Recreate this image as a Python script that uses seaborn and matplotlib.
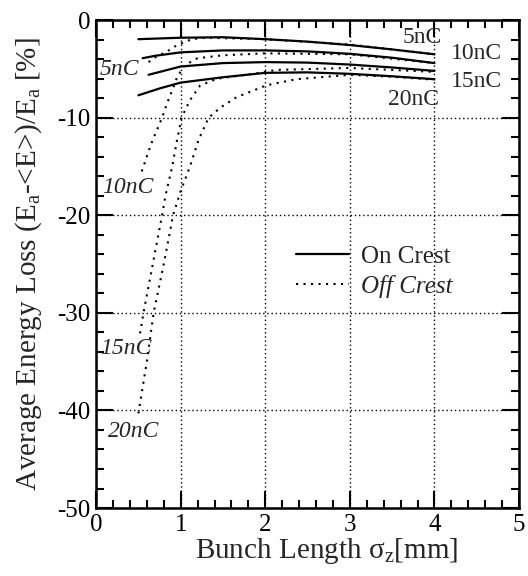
import matplotlib
matplotlib.use("Agg")
import matplotlib.pyplot as plt
from matplotlib.ticker import MultipleLocator
from matplotlib.lines import Line2D
import seaborn as sns
import pandas as pd

# ── data ────────────────────────────────────────────────────────────────────
charges = ["5nC", "10nC", "15nC", "20nC"]

on_5_x  = [0.5, 1.0, 1.5, 2.0, 2.5, 3.0, 3.5, 4.0]
on_5_y  = [-1.95, -1.8, -1.75, -1.95, -2.2, -2.55, -3.0, -3.5]
on_10_x = [0.55, 0.7, 1.0, 1.5, 2.0, 2.5, 3.0, 3.5, 4.0]
on_10_y = [-3.9, -3.65, -3.3, -3.1, -3.1, -3.2, -3.45, -3.85, -4.4]
on_15_x = [0.62, 1.0, 1.5, 2.0, 2.5, 3.0, 3.5, 4.0]
on_15_y = [-5.6, -4.75, -4.4, -4.3, -4.35, -4.55, -4.85, -5.2]
on_20_x = [0.5, 0.75, 1.0, 1.5, 2.0, 2.5, 3.0, 3.5, 4.0]
on_20_y = [-7.7, -7.0, -6.4, -5.85, -5.4, -5.35, -5.5, -5.75, -6.05]

off_5_x  = [0.62, 0.7, 0.84, 0.95, 1.03, 1.13, 1.3, 2.0, 3.0, 4.0]
off_5_y  = [-4.3, -3.8, -3.2, -2.6, -2.3, -1.95, -1.8, -1.95, -2.5, -3.5]
off_10_x = [0.54, 0.65, 0.78, 0.84, 0.9, 0.96, 1.05, 1.2, 1.5, 2.0, 3.0, 4.0]
off_10_y = [-15.5, -12.7, -10.0, -8.5, -7.2, -5.8, -4.6, -3.9, -3.6, -3.4, -3.5, -4.4]
off_15_x = [0.52, 0.56, 0.67, 0.78, 0.82, 0.9, 0.95, 1.01, 1.11, 1.23, 1.43, 1.86, 2.13, 3.0, 4.0]
off_15_y = [-32.1, -30.0, -25.0, -20.0, -18.0, -15.0, -12.6, -10.0, -8.2, -6.7, -6.0, -5.5, -5.1, -4.9, -5.3]
off_20_x = [0.5, 0.6, 0.68, 0.8, 0.91, 1.0, 1.11, 1.21, 1.33, 1.47, 1.66, 2.02, 2.37, 3.0, 3.5, 4.0]
off_20_y = [-40.3, -35.0, -30.0, -25.0, -20.0, -17.5, -15.0, -12.3, -10.0, -8.95, -7.9, -6.66, -6.05, -5.6, -5.8, -6.1]

on_curves  = [(on_5_x, on_5_y), (on_10_x, on_10_y), (on_15_x, on_15_y), (on_20_x, on_20_y)]
off_curves = [(off_5_x, off_5_y), (off_10_x, off_10_y), (off_15_x, off_15_y), (off_20_x, off_20_y)]

on_label_pos  = [(3.85, -1.8), (4.5, -3.4), (4.5, -6.25), (3.75, -8.1)]
off_label_pos = [(0.28, -5.1), (0.38, -17.2), (0.35, -33.7), (0.44, -42.2)]

# ── style ───────────────────────────────────────────────────────────────────
sns.set_theme(style="ticks")
plt.rcParams["font.family"] = ["Liberation Serif", "DejaVu Serif"]
plt.rcParams["mathtext.fontset"] = "custom"
plt.rcParams["mathtext.rm"] = "Liberation Serif"
plt.rcParams["mathtext.it"] = "Liberation Serif:italic"
plt.rcParams["axes.unicode_minus"] = False

fig = plt.figure(figsize=(5.28, 5.76), dpi=100)
ax = fig.add_axes([0.182, 0.118, 0.801, 0.847])

dotted = (0, (1.0, 2.6))
for (xs, ys) in on_curves:
    sns.lineplot(x=xs, y=ys, color="black", lw=1.6, ax=ax, sort=False)
for (xs, ys) in off_curves:
    sns.lineplot(x=xs, y=ys, color="black", lw=1.5, ax=ax, sort=False,
                 linestyle=dotted)

for name, (x, y) in zip(charges, on_label_pos):
    ax.text(x, y, name, fontsize=17, ha="center", va="center")
for name, (x, y) in zip(charges, off_label_pos):
    ax.text(x, y, name, fontsize=17, ha="center", va="center", style="italic")

ax.set_xlim(0, 5)
ax.set_ylim(-50, 0)
ax.xaxis.set_major_locator(MultipleLocator(1))
ax.xaxis.set_minor_locator(MultipleLocator(0.2))
ax.yaxis.set_major_locator(MultipleLocator(10))
ax.yaxis.set_minor_locator(MultipleLocator(2))
ax.tick_params(which="both", direction="in", top=True, right=True,
               labelsize=18, width=1.5, color="black", labelcolor="black")
ax.tick_params(which="major", length=12, pad=4)
ax.tick_params(which="minor", length=6)
for sp in ax.spines.values():
    sp.set_linewidth(1.8)
    sp.set_color("black")
ax.grid(True, which="major", color="black", lw=1.0, linestyle=(0, (1, 2)))

ax.set_xlabel("Bunch Length σ$_\\mathregular{z}$[mm]", fontsize=21)
ax.set_ylabel("Average Energy Loss (E$_\\mathregular{a}$-<E>)/E$_\\mathregular{a}$ [%]",
              fontsize=21)
ax.xaxis.set_label_coords(0.544, -0.058)
ax.yaxis.set_label_coords(-0.122, 0.5)

handles = [Line2D([], [], color="black", lw=1.6),
           Line2D([], [], color="black", lw=1.5, linestyle=dotted)]
leg = ax.legend(handles, ["On Crest", "Off Crest"], loc="upper left",
                bbox_to_anchor=(0.42, 0.585), frameon=False, fontsize=18,
                handlelength=2.1, handletextpad=0.5, labelspacing=0.3)
leg.get_texts()[1].set_style("italic")

fig.savefig("out.png", dpi=100)
